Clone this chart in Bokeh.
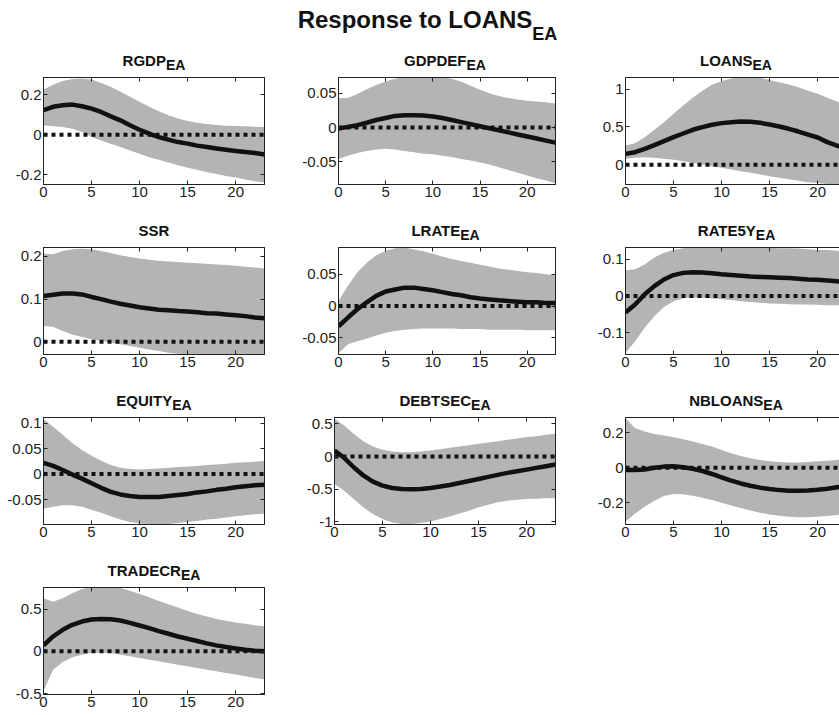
from bokeh.plotting import figure
from bokeh.models import Range1d, FixedTicker, LinearAxis, Label, CustomJSTickFormatter
from bokeh.layouts import column, row
from bokeh.embed import file_html
from bokeh.resources import INLINE

# ---------------- data ----------------
steps = list(range(24))
x_ticks = [0, 5, 10, 15, 20]

main_title = "Response to LOANS"
main_sub = "EA"

rgdp_med = [0.123, 0.14, 0.148, 0.151, 0.143, 0.131, 0.114, 0.092, 0.072, 0.047, 0.025, 0.005, -0.012, -0.025, -0.037, -0.045, -0.055, -0.062, -0.069, -0.076, -0.082, -0.087, -0.092, -0.099]
rgdp_hi = [0.227, 0.25, 0.27, 0.28, 0.282, 0.277, 0.26, 0.24, 0.215, 0.19, 0.165, 0.14, 0.118, 0.097, 0.081, 0.069, 0.06, 0.054, 0.049, 0.045, 0.044, 0.042, 0.04, 0.039]
rgdp_lo = [0.047, 0.042, 0.039, 0.03, 0.013, -0.012, -0.029, -0.045, -0.062, -0.079, -0.096, -0.113, -0.126, -0.14, -0.153, -0.166, -0.176, -0.188, -0.197, -0.207, -0.215, -0.225, -0.234, -0.24]

gdpdef_med = [-0.0015, 0.001, 0.0035, 0.007, 0.011, 0.014, 0.017, 0.018, 0.018, 0.0175, 0.016, 0.014, 0.011, 0.008, 0.005, 0.002, -0.001, -0.004, -0.007, -0.010, -0.013, -0.016, -0.019, -0.022]
gdpdef_hi = [0.043, 0.043, 0.049, 0.056, 0.062, 0.067, 0.071, 0.074, 0.075, 0.076, 0.075, 0.074, 0.071, 0.067, 0.061, 0.055, 0.05, 0.046, 0.043, 0.041, 0.039, 0.038, 0.037, 0.035]
gdpdef_lo = [-0.046, -0.041, -0.037, -0.034, -0.032, -0.031, -0.032, -0.034, -0.036, -0.038, -0.039, -0.041, -0.043, -0.046, -0.048, -0.051, -0.054, -0.058, -0.062, -0.066, -0.07, -0.074, -0.077, -0.081]

loans_med = [0.145, 0.167, 0.21, 0.26, 0.313, 0.366, 0.414, 0.463, 0.498, 0.529, 0.551, 0.564, 0.573, 0.568, 0.555, 0.533, 0.507, 0.476, 0.44, 0.4, 0.361, 0.3, 0.255, 0.21]
loans_hi = [0.255, 0.286, 0.366, 0.463, 0.564, 0.674, 0.784, 0.885, 0.98, 1.057, 1.105, 1.14, 1.16, 1.16, 1.15, 1.12, 1.09, 1.06, 1.026, 0.98, 0.94, 0.885, 0.837, 0.78]
loans_lo = [0.08, 0.093, 0.1, 0.093, 0.08, 0.066, 0.048, 0.026, 0.004, -0.018, -0.04, -0.062, -0.084, -0.106, -0.128, -0.15, -0.17, -0.19, -0.21, -0.23, -0.24, -0.255, -0.27, -0.28]

ssr_med = [0.107, 0.11, 0.113, 0.113, 0.111, 0.105, 0.1, 0.094, 0.089, 0.085, 0.081, 0.078, 0.075, 0.074, 0.072, 0.071, 0.069, 0.067, 0.066, 0.064, 0.062, 0.06, 0.057, 0.055]
ssr_hi = [0.207, 0.205, 0.213, 0.217, 0.218, 0.217, 0.213, 0.208, 0.203, 0.199, 0.195, 0.192, 0.19, 0.188, 0.187, 0.185, 0.184, 0.183, 0.181, 0.18, 0.178, 0.176, 0.174, 0.172]
ssr_lo = [0.037, 0.035, 0.025, 0.017, 0.011, 0.006, 0.002, -0.002, -0.006, -0.01, -0.014, -0.018, -0.022, -0.026, -0.028, -0.03, -0.031, -0.032, -0.033, -0.034, -0.035, -0.036, -0.037, -0.038]

lrate_med = [-0.0316, -0.018, -0.005, 0.006, 0.016, 0.023, 0.026, 0.029, 0.029, 0.027, 0.025, 0.022, 0.019, 0.017, 0.014, 0.012, 0.0105, 0.009, 0.008, 0.007, 0.006, 0.006, 0.005, 0.005]
lrate_hi = [0.008, 0.032, 0.053, 0.068, 0.08, 0.087, 0.091, 0.092, 0.089, 0.086, 0.082, 0.078, 0.074, 0.071, 0.068, 0.065, 0.062, 0.059, 0.057, 0.055, 0.053, 0.052, 0.05, 0.048]
lrate_lo = [-0.074, -0.06, -0.055, -0.051, -0.046, -0.042, -0.039, -0.037, -0.036, -0.035, -0.035, -0.035, -0.035, -0.036, -0.036, -0.036, -0.037, -0.037, -0.037, -0.037, -0.038, -0.038, -0.038, -0.038]

rate5y_med = [-0.045, -0.023, 0.005, 0.027, 0.045, 0.057, 0.063, 0.065, 0.064, 0.062, 0.059, 0.057, 0.055, 0.053, 0.052, 0.051, 0.05, 0.049, 0.047, 0.045, 0.044, 0.042, 0.04, 0.038]
rate5y_hi = [0.07, 0.073, 0.086, 0.105, 0.118, 0.125, 0.13, 0.133, 0.134, 0.134, 0.134, 0.133, 0.132, 0.132, 0.131, 0.131, 0.13, 0.13, 0.129, 0.127, 0.125, 0.125, 0.123, 0.121]
rate5y_lo = [-0.155, -0.123, -0.086, -0.055, -0.03, -0.014, -0.006, -0.005, -0.005, -0.007, -0.009, -0.011, -0.014, -0.016, -0.018, -0.02, -0.021, -0.022, -0.023, -0.023, -0.024, -0.025, -0.025, -0.026]

equity_med = [0.022, 0.016, 0.008, -0.001, -0.009, -0.018, -0.027, -0.035, -0.04, -0.043, -0.045, -0.045, -0.045, -0.043, -0.041, -0.039, -0.036, -0.034, -0.031, -0.029, -0.026, -0.024, -0.022, -0.021]
equity_hi = [0.108, 0.093, 0.077, 0.061, 0.047, 0.036, 0.026, 0.018, 0.0125, 0.01, 0.009, 0.01, 0.011, 0.0125, 0.014, 0.015, 0.016, 0.018, 0.019, 0.02, 0.022, 0.023, 0.024, 0.026]
equity_lo = [-0.068, -0.064, -0.061, -0.061, -0.064, -0.07, -0.076, -0.083, -0.089, -0.094, -0.097, -0.099, -0.099, -0.098, -0.096, -0.094, -0.092, -0.089, -0.0875, -0.0855, -0.083, -0.081, -0.079, -0.078]

debtsec_med = [0.092, -0.02, -0.164, -0.29, -0.384, -0.445, -0.481, -0.496, -0.5, -0.496, -0.481, -0.46, -0.435, -0.404, -0.374, -0.343, -0.312, -0.281, -0.25, -0.225, -0.2, -0.174, -0.148, -0.123]
debtsec_hi = [0.578, 0.476, 0.348, 0.235, 0.154, 0.102, 0.077, 0.067, 0.067, 0.077, 0.092, 0.113, 0.133, 0.154, 0.174, 0.194, 0.215, 0.235, 0.256, 0.276, 0.297, 0.312, 0.333, 0.348]
debtsec_lo = [-0.42, -0.522, -0.65, -0.778, -0.88, -0.957, -1.008, -1.034, -1.034, -1.018, -0.993, -0.957, -0.916, -0.87, -0.829, -0.778, -0.737, -0.701, -0.676, -0.66, -0.65, -0.645, -0.64, -0.635]

nbloans_med = [-0.013, -0.013, -0.01, 0.0, 0.006, 0.008, 0.002, -0.006, -0.019, -0.036, -0.055, -0.074, -0.09, -0.103, -0.114, -0.122, -0.128, -0.131, -0.131, -0.13, -0.126, -0.12, -0.112, -0.105]
nbloans_hi = [0.282, 0.225, 0.206, 0.192, 0.183, 0.173, 0.162, 0.149, 0.135, 0.12, 0.101, 0.082, 0.067, 0.053, 0.044, 0.036, 0.032, 0.03, 0.03, 0.032, 0.036, 0.04, 0.044, 0.05]
nbloans_lo = [-0.309, -0.261, -0.223, -0.189, -0.162, -0.15, -0.152, -0.16, -0.171, -0.185, -0.2, -0.215, -0.23, -0.244, -0.257, -0.267, -0.274, -0.28, -0.282, -0.282, -0.28, -0.276, -0.27, -0.265]

tradecr_med = [0.07, 0.176, 0.255, 0.314, 0.353, 0.376, 0.384, 0.38, 0.365, 0.337, 0.306, 0.275, 0.239, 0.208, 0.176, 0.149, 0.122, 0.094, 0.071, 0.051, 0.035, 0.02, 0.008, 0.0]
tradecr_hi = [0.627, 0.588, 0.627, 0.686, 0.737, 0.76, 0.77, 0.765, 0.75, 0.718, 0.678, 0.639, 0.596, 0.557, 0.518, 0.478, 0.443, 0.412, 0.384, 0.361, 0.341, 0.325, 0.31, 0.298]
tradecr_lo = [-0.47, -0.216, -0.125, -0.071, -0.039, -0.02, -0.012, -0.02, -0.039, -0.059, -0.078, -0.098, -0.118, -0.137, -0.157, -0.176, -0.196, -0.216, -0.235, -0.255, -0.275, -0.294, -0.314, -0.333]

# axis limits and y ticks
rgdp_yr, rgdp_ticks = (-0.25, 0.287), [-0.2, 0, 0.2]
gdpdef_yr, gdpdef_ticks = (-0.083, 0.073), [-0.05, 0, 0.05]
loans_yr, loans_ticks = (-0.26, 1.154), [0, 0.5, 1]
ssr_yr, ssr_ticks = (-0.03, 0.221), [0, 0.1, 0.2]
lrate_yr, lrate_ticks = (-0.076, 0.092), [-0.05, 0, 0.05]
rate5y_yr, rate5y_ticks = (-0.159, 0.132), [-0.1, 0, 0.1]
equity_yr, equity_ticks = (-0.099, 0.111), [-0.05, 0, 0.05, 0.1]
debtsec_yr, debtsec_ticks = (-1.04, 0.597), [-1, -0.5, 0, 0.5]
nbloans_yr, nbloans_ticks = (-0.324, 0.286), [-0.2, 0, 0.2]
tradecr_yr, tradecr_ticks = (-0.51, 0.755), [-0.5, 0, 0.5]

panels = [
    ("RGDP", "EA", rgdp_med, rgdp_lo, rgdp_hi, rgdp_yr, rgdp_ticks),
    ("GDPDEF", "EA", gdpdef_med, gdpdef_lo, gdpdef_hi, gdpdef_yr, gdpdef_ticks),
    ("LOANS", "EA", loans_med, loans_lo, loans_hi, loans_yr, loans_ticks),
    ("SSR", "", ssr_med, ssr_lo, ssr_hi, ssr_yr, ssr_ticks),
    ("LRATE", "EA", lrate_med, lrate_lo, lrate_hi, lrate_yr, lrate_ticks),
    ("RATE5Y", "EA", rate5y_med, rate5y_lo, rate5y_hi, rate5y_yr, rate5y_ticks),
    ("EQUITY", "EA", equity_med, equity_lo, equity_hi, equity_yr, equity_ticks),
    ("DEBTSEC", "EA", debtsec_med, debtsec_lo, debtsec_hi, debtsec_yr, debtsec_ticks),
    ("NBLOANS", "EA", nbloans_med, nbloans_lo, nbloans_hi, nbloans_yr, nbloans_ticks),
    ("TRADECR", "EA", tradecr_med, tradecr_lo, tradecr_hi, tradecr_yr, tradecr_ticks),
]

# ---------------- styling / layout ----------------
FONT = "Liberation Sans"
BAND = "#b4b4b4"
INK = "#111111"
FRAME = "#222222"
PAGE_W = 839
FW, FH = 221, 107            # frame size
FIRST_BL = 43                # left border of first column
BL, BR = 35, 35
BT = 4                       # border above frame (inside panel figure)
STRIP_H = 22                 # height of panel-title strip
HEAD_H = 51                  # main title band
ROW_PITCH = 170
LAST_BB = 20
X_END = 23
BASE_SHIFT = 0.38            # observed drop of rendered alphabetic baseline (em)
COL_W = [FIRST_BL + FW + BR, BL + FW + BR]
COL_W.append(PAGE_W - COL_W[0] - COL_W[1])
COL_FRAME_LEFT = [FIRST_BL, COL_W[0] + BL, COL_W[0] + COL_W[1] + BL]

# Helvetica-Bold advance widths (per 1000 em) for text centring
HB = {'A': 722, 'B': 722, 'C': 722, 'D': 722, 'E': 667, 'F': 611, 'G': 778, 'H': 722, 'I': 278,
      'J': 556, 'K': 722, 'L': 611, 'M': 833, 'N': 722, 'O': 778, 'P': 667, 'Q': 778, 'R': 722,
      'S': 667, 'T': 611, 'U': 722, 'V': 667, 'W': 944, 'X': 667, 'Y': 667, 'Z': 611, ' ': 278,
      'e': 556, 's': 556, 'p': 611, 'o': 611, 'n': 611, 't': 333, 'r': 389}
for d in "0123456789":
    HB[d] = 556


def tw(s, size):
    return sum(HB.get(c, 600) for c in s) / 1000.0 * size


def style_axis(ax, ticks, labels=True):
    ax.ticker = FixedTicker(ticks=ticks)
    ax.axis_line_color = FRAME
    ax.axis_line_width = 1
    ax.major_tick_line_color = FRAME
    ax.major_tick_in = 4
    ax.major_tick_out = 0
    ax.minor_tick_line_color = None
    if labels:
        ax.major_label_text_font = FONT
        ax.major_label_text_font_size = "15px"
        ax.major_label_text_color = "#222222"
        ax.major_label_standoff = 2
        ax.major_label_overrides = {t: f"{t:g}" for t in ticks}
    else:
        ax.formatter = CustomJSTickFormatter(code="return ''")
        ax.major_label_text_font_size = "0px"
        ax.major_label_standoff = 0


def make_panel(idx, name, sub, med, lo, hi, yr, yticks):
    col = idx % 3
    last_row = idx == 9
    cut = col == 2
    width = COL_W[col]
    bl = FIRST_BL if col == 0 else BL
    br = 0 if cut else BR
    frame_w = width - bl - br
    xend = X_END * frame_w / FW
    bb = LAST_BB if last_row else ROW_PITCH - STRIP_H - BT - FH
    p = figure(width=width, height=BT + FH + bb,
               x_range=Range1d(0, xend), y_range=Range1d(*yr),
               output_backend="svg", toolbar_location=None,
               min_border_left=bl, min_border_right=br,
               min_border_top=BT, min_border_bottom=bb)
    p.xgrid.visible = False
    p.ygrid.visible = False
    p.background_fill_color = "white"
    p.border_fill_color = "white"
    p.outline_line_color = None if cut else FRAME
    p.outline_line_width = 1

    style_axis(p.xaxis[0], x_ticks)
    style_axis(p.yaxis[0], yticks)
    top = LinearAxis()
    style_axis(top, x_ticks, labels=False)
    p.add_layout(top, "above")
    if not cut:
        right = LinearAxis()
        style_axis(right, yticks, labels=False)
        p.add_layout(right, "right")

    p.varea(x=steps, y1=lo, y2=hi, fill_color=BAND, fill_alpha=1.0)
    p.line(x=steps, y=[0 * v for v in med], line_color=INK, line_width=4,
           line_dash="4 4", line_cap="butt")
    p.line(x=steps, y=med, line_color=INK, line_width=4.5, line_join="round")
    return p


def text_band(height):
    f = figure(width=PAGE_W, height=height, x_range=Range1d(0, PAGE_W), y_range=Range1d(height, 0),
               output_backend="svg", toolbar_location=None, min_border=0,
               x_axis_location=None, y_axis_location=None)
    f.grid.visible = False
    f.outline_line_color = None
    f.border_fill_color = "white"
    f.background_fill_color = "white"
    return f


def add_sub_title(f, cx, text, sub, size, sub_size, base, sub_base):
    wm = tw(text, size)
    ws = tw(sub, sub_size) if sub else 0
    jx = cx - (wm + ws) / 2 + wm
    f.add_layout(Label(x=jx, y=base - BASE_SHIFT * size, text=text, text_align="right",
                       text_baseline="alphabetic", text_font=FONT, text_font_style="bold",
                       text_font_size=f"{size}px", text_color=INK))
    if sub:
        f.add_layout(Label(x=jx, y=sub_base - BASE_SHIFT * sub_size, text=sub, text_align="left",
                           text_baseline="alphabetic", text_font=FONT, text_font_style="bold",
                           text_font_size=f"{sub_size}px", text_color=INK))


figs = [make_panel(i, *pn) for i, pn in enumerate(panels)]

# main title band
head = text_band(HEAD_H)
add_sub_title(head, 427, main_title, main_sub, 24, 18, 28, 40)

# strips with panel titles
blocks = [head]
for r in range(4):
    idxs = [i for i in range(len(panels)) if i // 3 == r]
    strip = text_band(STRIP_H)
    for i in idxs:
        name, sub = panels[i][0], panels[i][1]
        cx = COL_FRAME_LEFT[i % 3] + FW / 2
        add_sub_title(strip, cx, name, sub, 15, 14, STRIP_H + BT - 11, STRIP_H + BT - 7)
    blocks.append(strip)
    blocks.append(row(*[figs[i] for i in idxs]))

layout = column(*blocks)

open("out.html", "w").write(file_html(layout, INLINE))
